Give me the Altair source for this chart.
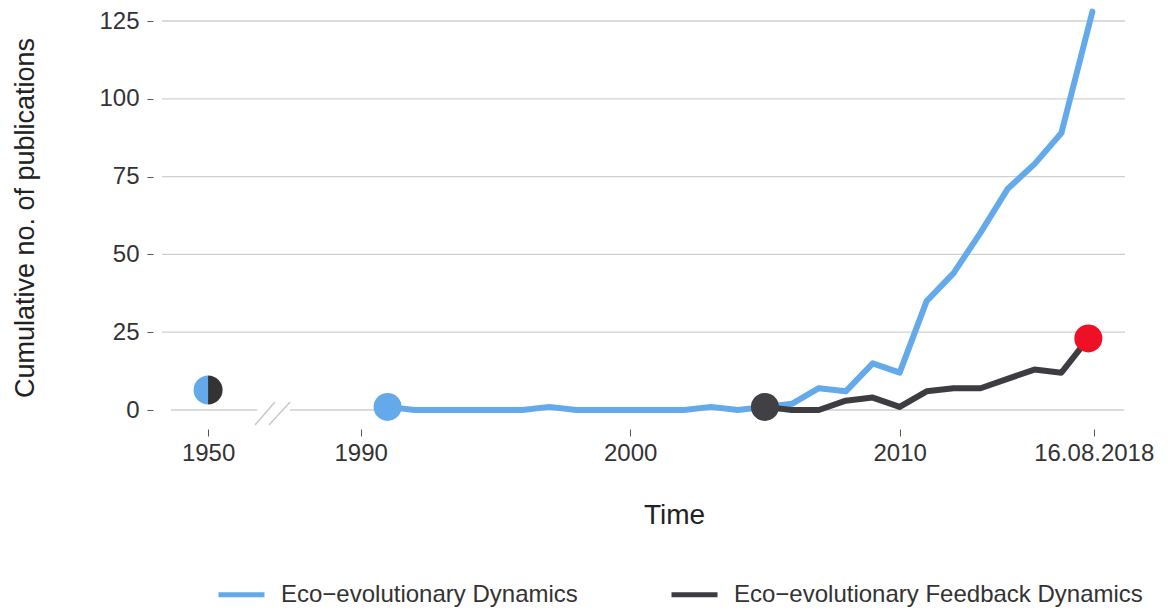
import altair as alt
import pandas as pd

FONT = "Liberation Sans"

# ---- data -------------------------------------------------------------
series_names = ["Eco\u2212evolutionary Dynamics", "Eco\u2212evolutionary Feedback Dynamics"]
series_colors = ["#64AAEB", "#3C3C41"]

eco_years = [1991, 1992, 1993, 1994, 1995, 1996, 1997, 1998, 1999, 2000,
             2001, 2002, 2003, 2004, 2005, 2006, 2007, 2008, 2009, 2010,
             2011, 2012, 2013, 2014, 2015, 2016, 2017.15]
eco_values = [1, 0, 0, 0, 0, 0, 1, 0, 0, 0,
              0, 0, 1, 0, 1, 2, 7, 6, 15, 12,
              35, 44, 57, 71, 79, 89, 128]

fb_years = [2005, 2006, 2007, 2008, 2009, 2010, 2011, 2012, 2013, 2014, 2015, 2016, 2017]
fb_values = [1, 0, 0, 3, 4, 1, 6, 7, 7, 10, 13, 12, 23]

# x axis with a break: 1950 is drawn at a compressed position
tick_positions = [1984.34, 1990, 2000, 2010, 2017.2]
tick_labels = ["1950", "1990", "2000", "2010", "16.08.2018"]
y_ticks = [0, 25, 50, 75, 100, 125]
grid_values = [25, 50, 75, 100, 125]

origin_pos = [1984.34]
origin_value = [6.4]

start_pos = [1991, 2005]
start_value = [1, 1]
start_color = ["#64AAEB", "#404045"]

end_pos = [2017]
end_value = [23]

zero_x = [1982.96, 1987.38]
zero_x2 = [1986.16, 2018.33]

slash_x = [1986.08, 1986.60]
slash_x2 = [1986.82, 1987.38]
slash_y = [-4.8, -4.8]
slash_y2 = [2.6, 2.6]

# ---- tables -------------------------------------------------------------
lines_eco = pd.DataFrame({"pos": eco_years, "value": eco_values,
                          "series": series_names[0], "idx": range(len(eco_years))})
lines_fb = pd.DataFrame({"pos": fb_years, "value": fb_values,
                         "series": series_names[1], "idx": range(len(fb_years))})
grid_df = pd.DataFrame({"value": grid_values})
zero_df = pd.DataFrame({"pos": zero_x, "pos2": zero_x2, "value": [0, 0]})
slash_df = pd.DataFrame({"pos": slash_x, "pos2": slash_x2, "value": slash_y, "value2": slash_y2})
start_df = pd.DataFrame({"pos": start_pos, "value": start_value, "c": start_color})
end_df = pd.DataFrame({"pos": end_pos, "value": end_value})
origin_df = pd.DataFrame({"pos": origin_pos, "value": origin_value})

label_expr = "".join(
    f"abs(datum.value - {p}) < 0.01 ? '{l}' : " for p, l in zip(tick_positions, tick_labels)
) + "''"

x_scale = alt.Scale(domain=[1982.63, 2018.36], nice=False, zero=False)
y_scale = alt.Scale(domain=[-6.105, 129.18], nice=False, zero=False)

x_axis = alt.Axis(values=tick_positions, labelExpr=label_expr, grid=False, domain=False,
                  tickSize=7, tickColor="#555555", tickWidth=1,
                  labelFont=FONT, labelFontSize=24, labelColor="#333333", labelPadding=5,
                  labelFlush=False, labelOverlap=False,
                  titleFont=FONT, titleFontSize=28, titleFontWeight="normal", titleColor="#222222",
                  titleX=512, titleY=94, titleAlign="center", titleBaseline="alphabetic")
y_axis = alt.Axis(values=y_ticks, grid=False, domain=False, offset=9,
                  tickSize=6, tickColor="#555555", tickWidth=1,
                  labelFont=FONT, labelFontSize=24, labelColor="#333333", labelPadding=8,
                  titleFont=FONT, titleFontSize=27, titleFontWeight="normal", titleColor="#222222",
                  titleX=-120, titleY=209.5, titleAngle=270, titleAlign="center",
                  titleBaseline="alphabetic")

X = alt.X("pos:Q", scale=x_scale, axis=x_axis, title="Time")
Y = alt.Y("value:Q", scale=y_scale, axis=y_axis, title="Cumulative no. of publications")

color_enc = alt.Color("series:N",
                      scale=alt.Scale(domain=series_names, range=series_colors),
                      legend=alt.Legend(orient="none", legendX=54, legendY=561,
                                        direction="horizontal", title=None, padding=0,
                                        symbolType="stroke", symbolSize=2116,
                                        symbolStrokeWidth=5, labelOffset=14,
                                        columnPadding=83,
                                        labelFont=FONT, labelFontSize=24,
                                        labelColor="#333333", labelLimit=0))

grid = alt.Chart(grid_df).mark_rule(color="#cfcfcf", strokeWidth=1.3).encode(y=Y)
zero = alt.Chart(zero_df).mark_rule(color="#cfcfcf", strokeWidth=1.3).encode(
    x=X, x2="pos2:Q", y=Y)
slash = alt.Chart(slash_df).mark_rule(color="#c8c8c8", strokeWidth=1.5).encode(
    x=X, x2="pos2:Q", y=Y, y2="value2:Q")

line_eco = alt.Chart(lines_eco).mark_line(strokeWidth=6, strokeCap="round",
                                          strokeJoin="round").encode(
    x=X, y=Y, color=color_enc, order="idx:Q")
line_fb = alt.Chart(lines_fb).mark_line(strokeWidth=6, strokeCap="round",
                                        strokeJoin="round").encode(
    x=X, y=Y, color=color_enc, order="idx:Q")

starts = alt.Chart(start_df).mark_circle(size=784, opacity=1).encode(
    x=X, y=Y, color=alt.Color("c:N", scale=None))
ends = alt.Chart(end_df).mark_circle(size=784, opacity=1, color="#EE1125").encode(x=X, y=Y)

half_left = alt.Chart(origin_df).mark_point(
    shape="M0,-1 A1,1 0 0 0 0,1 Z", filled=True, size=841, opacity=1,
    color="#64AAEB", strokeWidth=0).encode(x=X, y=Y)
half_right = alt.Chart(origin_df).mark_point(
    shape="M0,-1 A1,1 0 0 1 0,1 Z", filled=True, size=841, opacity=1,
    color="#333333", strokeWidth=0).encode(x=X, y=Y)

chart = alt.layer(grid, zero, slash, line_eco, line_fb, starts, ends, half_left, half_right).properties(
    width=963, height=421,
    padding={"left": 154, "top": 0, "right": 37, "bottom": 178},
    autosize=alt.AutoSizeParams(type="none"),
    background="white",
).configure_view(stroke=None)

chart.save("out.html", embed_options={"renderer": "svg", "actions": False})
